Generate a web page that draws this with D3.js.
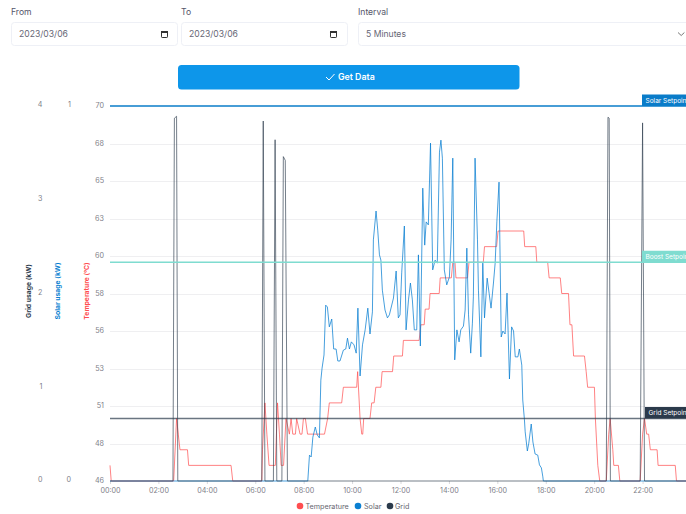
<!DOCTYPE html>
<html>
<head>
<meta charset="utf-8">
<script src="https://cdn.jsdelivr.net/npm/d3@7"></script>
<style>
  html, body { margin: 0; padding: 0; background: #fff; overflow: hidden; }
  svg { display: block; font-family: Inter, "Open Sans", sans-serif; }
</style>
</head>
<body>
<div id="chart"></div>
<script>
// values, time is in decimal hours
const tempHours = [0, 0.05, 2.63, 2.75, 2.82, 2.89, 3.2, 3.25, 5.0, 5.07, 6.27, 6.3, 6.4, 6.48, 6.57, 6.83, 6.92, 7.0, 7.07, 7.17, 7.27, 7.41, 7.48, 7.55, 7.66, 7.71, 7.85, 7.93, 7.99, 8.07, 8.16, 8.86, 8.99, 9.06, 9.57, 9.64, 10.19, 10.23, 10.33, 10.4, 10.44, 10.48, 10.74, 10.81, 10.91, 10.98, 11.19, 11.24, 11.67, 11.72, 12.08, 12.12, 12.77, 12.84, 12.98, 13.02, 13.18, 13.22, 13.6, 13.64, 14.1, 14.16, 14.25, 14.29, 14.77, 14.83, 15.42, 15.47, 15.97, 16.03, 17.09, 17.13, 17.59, 17.63, 18.08, 18.14, 18.6, 18.66, 18.94, 19.0, 19.08, 19.15, 19.6, 19.67, 19.73, 20.01, 20.05, 20.15, 20.23, 20.5, 20.6, 20.66, 20.77, 20.81, 21.0, 21.06, 21.9, 22.0, 22.08, 22.17, 22.25, 22.32, 22.6, 22.64, 23.35, 23.4, 24];
const tempValues = [47, 46, 46, 50, 49, 48, 48, 47, 47, 46, 46, 48, 51, 49, 47, 47, 51, 49, 47, 47, 50, 49, 50, 49, 49, 50, 49, 49, 50, 50, 49, 49, 50, 51, 51, 52, 52, 53, 50, 49, 49, 50, 50, 51, 51, 52, 52, 53, 53, 54, 54, 55, 55, 56, 56, 57, 57, 58, 58, 59, 59, 60, 60, 59, 59, 60, 60, 61, 61, 62, 62, 61, 61, 60, 60, 59, 59, 58, 58, 56, 56, 54, 54, 53, 52, 52, 50, 47, 46, 46, 49, 50, 48, 47, 47, 46, 46, 49, 50, 49, 49, 48, 48, 47, 47, 46, 46];

const solarHours = [0, 8.17, 8.24, 8.31, 8.38, 8.48, 8.56, 8.65, 8.71, 8.76, 8.84, 8.91, 8.98, 9.06, 9.16, 9.24, 9.34, 9.41, 9.5, 9.64, 9.74, 9.81, 9.89, 9.97, 10.08, 10.17, 10.24, 10.33, 10.43, 10.54, 10.65, 10.74, 10.84, 10.88, 10.99, 11.06, 11.13, 11.19, 11.25, 11.36, 11.46, 11.54, 11.71, 11.82, 11.91, 11.98, 12.05, 12.16, 12.23, 12.33, 12.41, 12.49, 12.57, 12.67, 12.74, 12.82, 12.92, 13.0, 13.06, 13.15, 13.24, 13.33, 13.43, 13.52, 13.61, 13.67, 13.73, 13.81, 13.91, 14.02, 14.09, 14.16, 14.24, 14.33, 14.42, 14.49, 14.6, 14.67, 14.74, 14.81, 14.9, 14.97, 15.01, 15.08, 15.18, 15.22, 15.32, 15.4, 15.47, 15.58, 15.66, 15.74, 15.84, 15.91, 15.98, 16.07, 16.16, 16.23, 16.32, 16.4, 16.5, 16.59, 16.67, 16.74, 16.85, 16.91, 17.01, 17.05, 17.12, 17.15, 17.24, 17.3, 17.4, 17.47, 17.56, 17.67, 17.74, 17.82, 17.88, 17.9, 24];
const solarValues = [0, 0, 0.069, 0.064, 0.117, 0.144, 0.123, 0.115, 0.269, 0.301, 0.336, 0.469, 0.464, 0.411, 0.432, 0.352, 0.352, 0.32, 0.32, 0.349, 0.352, 0.381, 0.352, 0.371, 0.363, 0.341, 0.461, 0.28, 0.363, 0.403, 0.461, 0.392, 0.451, 0.643, 0.72, 0.669, 0.603, 0.589, 0.509, 0.456, 0.435, 0.443, 0.488, 0.56, 0.435, 0.443, 0.555, 0.68, 0.403, 0.483, 0.528, 0.483, 0.403, 0.403, 0.603, 0.36, 0.781, 0.629, 0.691, 0.683, 0.901, 0.563, 0.589, 0.581, 0.877, 0.909, 0.861, 0.563, 0.523, 0.544, 0.643, 0.861, 0.323, 0.403, 0.371, 0.403, 0.413, 0.456, 0.621, 0.443, 0.341, 0.421, 0.491, 0.861, 0.643, 0.509, 0.331, 0.581, 0.435, 0.541, 0.501, 0.461, 0.528, 0.581, 0.691, 0.797, 0.384, 0.4, 0.392, 0.501, 0.272, 0.411, 0.4, 0.331, 0.331, 0.352, 0.309, 0.216, 0.163, 0.131, 0.08, 0.101, 0.152, 0.104, 0.072, 0.069, 0.043, 0.035, 0.011, 0, 0];

const gridHours = [0, 2.6, 2.66, 2.75, 2.8, 6.27, 6.33, 6.4, 6.75, 6.82, 6.89, 7.1, 7.16, 7.24, 7.33, 20.5, 20.57, 20.62, 20.67, 21.9, 22.0, 22.08, 24];
const gridValues = [0, 0, 3.87, 3.89, 0, 0, 3.84, 0, 0, 3.64, 0, 0, 3.46, 3.42, 0, 0, 3.88, 3.87, 0, 0, 3.82, 0, 0];

const hourTicks = [0, 2, 4, 6, 8, 10, 12, 14, 16, 18, 20, 22];
const tempTicks = [46, 48.4, 50.8, 53.2, 55.6, 58, 60.4, 62.8, 65.2, 67.6, 70];
const gridTicks = [0, 1, 2, 3, 4];
const solarTicks = [0, 1];

const setpointNames = ["Solar Setpoint", "Boost Setpoint", "Grid Setpoint"];
const setpointTemps = [70, 60, 50];
const setpointColors = ["#0a7cc9", "#7fdcd0", "#2b3a4b"];

const seriesNames = ["Temperature", "Solar", "Grid"];
const seriesColors = ["#ff4d4f", "#0a7fd1", "#2b3a4b"];

const width = 686;
const height = 514;
const margin = { top: 106, left: 110, bottom: 33 };
const innerBottom = height - margin.bottom;

const svg = d3.select("#chart").append("svg")
  .attr("width", width)
  .attr("height", height);

// form controls on top of the chart
function drawInput(x, w, label, value) {
  svg.append("text").attr("x", x).attr("y", 15).attr("font-size", 8.6).attr("fill", "#55556a").text(label);
  svg.append("rect")
    .attr("x", x + 0.5).attr("y", 22.5).attr("width", w).attr("height", 23).attr("rx", 3)
    .attr("fill", "#fff").attr("stroke", "#eef0f6");
  svg.append("text").attr("x", x + 8).attr("y", 36.8).attr("font-size", 8.6)
    .attr("fill", "#666675").text(value);
}

function drawCalendar(x) {
  const g = svg.append("g").attr("transform", `translate(${x},30)`);
  g.append("rect").attr("x", 0.5).attr("y", 1.5).attr("width", 6).attr("height", 6).attr("rx", 0.7)
    .attr("fill", "none").attr("stroke", "#333");
  g.append("rect").attr("x", 0).attr("y", 1).attr("width", 7).attr("height", 2).attr("fill", "#333");
}

drawInput(11, 166, "From", "2023/03/06");
drawCalendar(161);
drawInput(181, 166, "To", "2023/03/06");
drawCalendar(330);
drawInput(358, 340, "Interval", "5 Minutes");
svg.append("path").attr("d", "M678 32.5l3.2 3 3.2-3").attr("fill", "none").attr("stroke", "#777");

svg.append("rect")
  .attr("x", 178).attr("y", 65).attr("width", 341.5).attr("height", 24.5).attr("rx", 3.5)
  .attr("fill", "#0d96ea");
svg.append("path").attr("d", "M326 77l3 3 5.5-6").attr("fill", "none").attr("stroke", "#fff").attr("stroke-width", 1);
svg.append("text").attr("x", 338).attr("y", 80).attr("font-size", 8.8).attr("font-weight", 600)
  .attr("fill", "#fff").text("Get Data");

// scales
const x = d3.scaleLinear().domain([0, 24]).range([margin.left, 691]);
const yTemp = d3.scaleLinear().domain([46, 70]).range([innerBottom, margin.top]);
const ySolar = d3.scaleLinear().domain([0, 1]).range([innerBottom, margin.top]);
const yGrid = d3.scaleLinear().domain([0, 4]).range([innerBottom, margin.top]);

// horizontal grid lines
svg.append("g")
  .selectAll("line")
  .data(tempTicks.slice(1, -1))
  .enter().append("line")
  .attr("x1", margin.left).attr("x2", width)
  .attr("y1", d => Math.round(yTemp(d)) + 0.5).attr("y2", d => Math.round(yTemp(d)) + 0.5)
  .attr("stroke", "#efeff1");

// axes
function styleAxis(g) {
  g.select(".domain").remove();
  g.selectAll(".tick line").remove();
  g.selectAll("text").attr("fill", "#808089").attr("font-size", 7.2).attr("font-family", "Inter, sans-serif");
}

svg.append("g")
  .attr("transform", "translate(107,-0.5)")
  .call(d3.axisLeft(yTemp).tickValues(tempTicks).tickSize(0).tickFormat(d3.format(".0f")))
  .call(styleAxis);

svg.append("g")
  .attr("transform", "translate(45.5,-1.5)")
  .call(d3.axisLeft(yGrid).tickValues(gridTicks).tickSize(0).tickFormat(d3.format("d")))
  .call(styleAxis);

svg.append("g")
  .attr("transform", "translate(74,-1.5)")
  .call(d3.axisLeft(ySolar).tickValues(solarTicks).tickSize(0).tickFormat(d3.format("d")))
  .call(styleAxis);

const xAxis = svg.append("g")
  .attr("transform", `translate(0,${innerBottom})`)
  .call(d3.axisBottom(x).tickValues(hourTicks).tickSize(3).tickPadding(4)
    .tickFormat(d => d3.format("02")(d) + ":00"));
xAxis.select(".domain").remove();
xAxis.selectAll(".tick line").attr("stroke", "#d8d8dc");
xAxis.selectAll("text").attr("fill", "#808089").attr("font-size", 7.2).attr("font-family", "Inter, sans-serif");

// rotated axis titles
const titles = [
  ["Grid usage (kW)", 29, seriesColors[2]],
  ["Solar usage (kW)", 58, seriesColors[1]],
  ["Temperature (°C)", 87, seriesColors[0]]
];
titles.forEach(t => {
  svg.append("text")
    .attr("transform", `translate(${t[1]},291) rotate(-90)`)
    .attr("text-anchor", "middle")
    .attr("dy", "0.32em")
    .attr("font-size", 6.8)
    .attr("font-weight", 700)
    .attr("fill", t[2])
    .text(t[0]);
});

// the three lines
function drawLine(hours, values, yScale, color, opacity) {
  const line = d3.line()
    .x(i => x(hours[i]))
    .y(i => yScale(values[i]));
  svg.append("path")
    .attr("d", line(d3.range(hours.length)))
    .attr("fill", "none")
    .attr("stroke", color)
    .attr("stroke-opacity", opacity)
    .attr("stroke-width", 1);
}

drawLine(tempHours, tempValues, yTemp, seriesColors[0], 0.7);
drawLine(solarHours, solarValues, ySolar, seriesColors[1], 0.75);
drawLine(gridHours, gridValues, yGrid, seriesColors[2], 0.65);

// setpoint lines with their tags
setpointNames.forEach((name, i) => {
  const yPos = yTemp(setpointTemps[i]);
  svg.append("line")
    .attr("x1", margin.left).attr("x2", width)
    .attr("y1", yPos).attr("y2", yPos)
    .attr("stroke", setpointColors[i])
    .attr("stroke-width", 1.5)
    .attr("stroke-opacity", i == 2 ? 0.7 : 1);
  const tagX = i == 2 ? 645 : 642;
  svg.append("rect")
    .attr("x", tagX).attr("y", yPos - 11.5).attr("width", 60).attr("height", 11.5)
    .attr("fill", setpointColors[i]);
  svg.append("text")
    .attr("x", tagX + 3.5).attr("y", yPos - 3.3)
    .attr("font-size", 6.5)
    .attr("fill", "#fff")
    .text(name);
});

// legend
const legendMarkers = [300, 358, 390];
const legendText = [305.5, 364, 395];
seriesNames.forEach((name, i) => {
  svg.append("circle").attr("cx", legendMarkers[i]).attr("cy", 506).attr("r", 3.3).attr("fill", seriesColors[i]);
  svg.append("text").attr("x", legendText[i]).attr("y", 508.6).attr("font-size", 7.2).attr("fill", "#66666f").text(name);
});
</script>
</body>
</html>
